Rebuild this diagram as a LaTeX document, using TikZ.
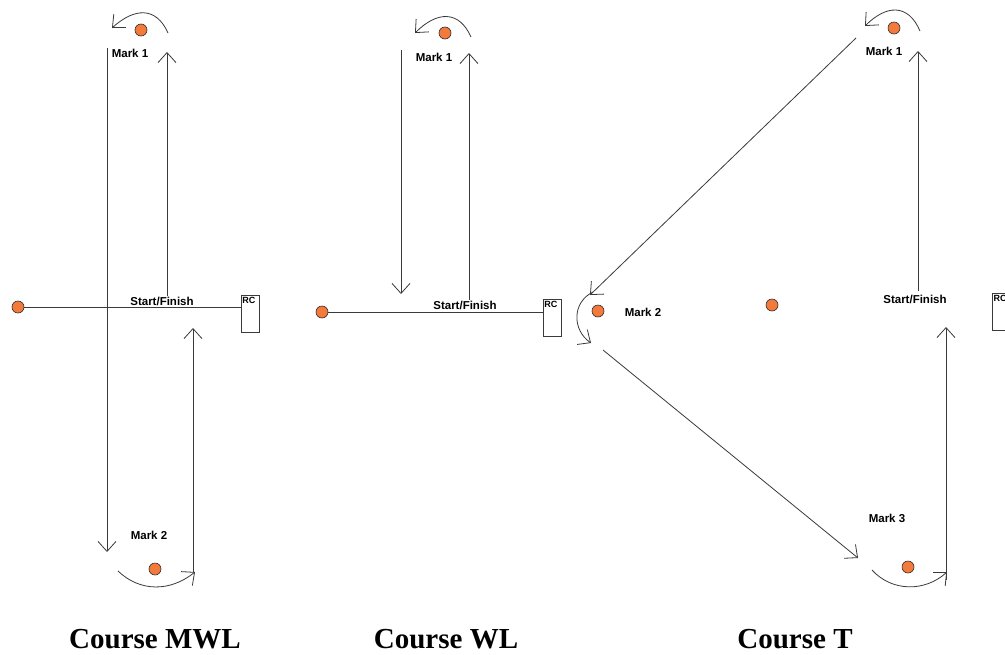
\documentclass[tikz,border=0pt]{standalone}
\usepackage{fontspec}
\setmainfont{Liberation Sans}
\newfontfamily\capfont{Liberation Serif}
\usetikzlibrary{arrows.meta}
\definecolor{buoy}{HTML}{F47A3C}
\definecolor{ln}{HTML}{3A3A3A}
\tikzset{
  dot/.style={circle,draw=ln!80!black,line width=0.6pt,fill=buoy,minimum size=12pt,inner sep=0pt},
  lbl/.style={font=\fontsize{11.5}{13}\selectfont\bfseries,inner sep=0pt},
  rclbl/.style={font=\fontsize{9}{10}\selectfont\bfseries,inner sep=0pt,anchor=north west},
  captxt/.style={font=\capfont\fontsize{29}{33}\selectfont\bfseries,inner sep=0pt,anchor=base},
  leg/.style={draw=ln,line width=0.8pt},
  arr/.style={leg,-{Straight Barb[length=10pt,width=18pt,line width=0.8pt]}},
  rcbox/.style={draw=ln,line width=0.8pt,minimum width=18pt,minimum height=37pt,inner sep=0pt}
}
\begin{document}
\begin{tikzpicture}[x=1pt,y=-1pt]
\useasboundingbox (0,0) rectangle (1005,654);
\clip (0,0) rectangle (1005,654);
\fill[white] (0,0) rectangle (1005,654);
% ---------------- Course MWL ----------------
\node[dot] (a1) at (141,30) {};
\node[lbl] (a1l) at (130,53) {Mark 1};
\node[dot] (a2) at (155,569) {};
\node[lbl] (a2l) at (149,535) {Mark 2};
\node[dot] (apin) at (18,307) {};
\node[rcbox] (arc) at (250,313.5) {};
\node[rclbl] (arct) at ([shift={(1.5,2)}]arc.north west) {RC};
\node[lbl] (asf) at (162,301) {Start/Finish};
\coordinate (a-dn-s) at (107,48);
\coordinate (a-dn-e) at (107,552);
\coordinate (a-up-s) at (167,296);
\coordinate (a-up-e) at (167,52);
\coordinate (a-lu-s) at (193,572);
\coordinate (a-lu-e) at (193,328);
\draw[leg] (apin) -- (arc.west |- apin);
\draw[arr] (a-dn-s) -- (a-dn-e);
\draw[arr] (a-up-s) -- (a-up-e);
\draw[arr] (a-lu-s) -- (a-lu-e);
\coordinate (a1c-s) at (168,33);
\coordinate (a1c-e) at (112,28);
\draw[arr] (a1c-s) .. controls (156,6) and (134,8) .. (a1c-e);
\coordinate (a2c-s) at (118,571);
\coordinate (a2c-e) at (195,572);
\draw[arr] (a2c-s) .. controls (140,592) and (170,592) .. (a2c-e);
\node[captxt] (capa) at (155,648) {Course MWL};
% ---------------- Course WL ----------------
\node[dot] (b1) at (445,33) {};
\node[lbl] (b1l) at (434,57) {Mark 1};
\node[dot] (bpin) at (322,312) {};
\node[rcbox] (brc) at (552,318) {};
\node[rclbl] (brct) at ([shift={(1.5,2)}]brc.north west) {RC};
\node[lbl] (bsf) at (465,305) {Start/Finish};
\coordinate (b-dn-s) at (401,50);
\coordinate (b-dn-e) at (401,294);
\coordinate (b-up-s) at (469,300);
\coordinate (b-up-e) at (469,53);
\draw[leg] (bpin) -- (brc.west |- bpin);
\draw[arr] (b-dn-s) -- (b-dn-e);
\draw[arr] (b-up-s) -- (b-up-e);
\coordinate (b1c-s) at (471,37);
\coordinate (b1c-e) at (415,33);
\draw[arr] (b1c-s) .. controls (459,10) and (437,11) .. (b1c-e);
\node[captxt] (capb) at (446,648) {Course WL};
% ---------------- Course T ----------------
\node[dot] (c1) at (894,28) {};
\node[lbl] (c1l) at (884,51) {Mark 1};
\node[dot] (c2) at (598,311) {};
\node[lbl] (c2l) at (643,312) {Mark 2};
\node[dot] (c3) at (908,567) {};
\node[lbl] (c3l) at (887,518) {Mark 3};
\node[dot] (cpin) at (772,305) {};
\node[lbl] (csf) at (915,299) {Start/Finish};
\node[rcbox,anchor=north west] (crc) at (992,293) {};
\node[rclbl] (crct) at ([shift={(1.5,2)}]crc.north west) {RC};
\coordinate (c-up-s) at (918,291);
\coordinate (c-up-e) at (918,51);
\coordinate (c-lu-s) at (946,580);
\coordinate (c-lu-e) at (946,327);
\coordinate (c-d1-s) at (856,38);
\coordinate (c-d1-e) at (590,295);
\coordinate (c-d2-s) at (603,350);
\coordinate (c-d2-e) at (858,558);
\draw[arr] (c-up-s) -- (c-up-e);
\draw[arr] (c-lu-s) -- (c-lu-e);
\draw[arr] (c-d1-s) -- (c-d1-e);
\draw[arr] (c-d2-s) -- (c-d2-e);
\coordinate (c1c-s) at (920,31);
\coordinate (c1c-e) at (865,26);
\draw[arr] (c1c-s) .. controls (908,3) and (886,5) .. (c1c-e);
\coordinate (c2c-s) at (593,292);
\coordinate (c2c-e) at (591,343);
\draw[arr] (c2c-s) .. controls (572,302) and (572,330) .. (c2c-e);
\coordinate (c3c-s) at (872,570);
\coordinate (c3c-e) at (947,572);
\draw[arr] (c3c-s) .. controls (892,592) and (925,592) .. (c3c-e);
\node[captxt] (capc) at (795,648) {Course T};
\end{tikzpicture}
\end{document}
